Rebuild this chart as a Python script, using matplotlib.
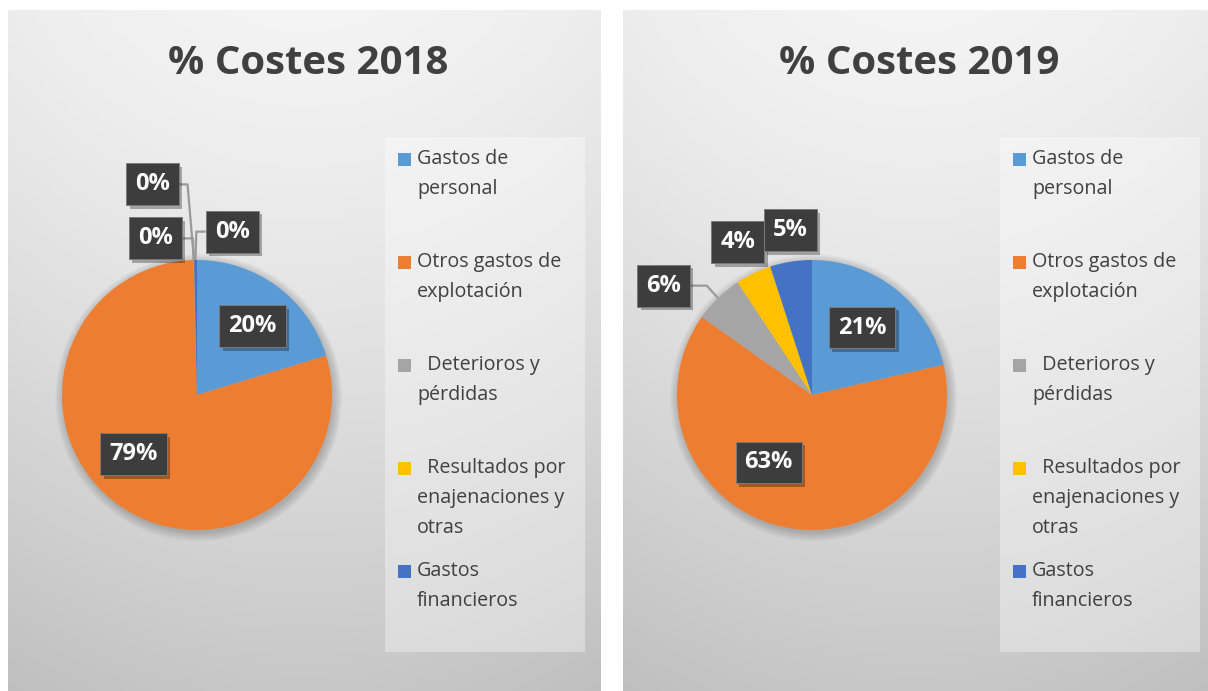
import numpy as np
import matplotlib
matplotlib.use("Agg")
import matplotlib.pyplot as plt
from matplotlib.patches import Rectangle, Circle
import matplotlib.patheffects as pe

# ---------------- data ----------------
categories = ["Gastos de\npersonal", "Otros gastos de\nexplotación",
              "  Deterioros y\npérdidas",
              "  Resultados por\nenajenaciones y\notras",
              "Gastos\nfinancieros"]
titles = ["% Costes 2018", "% Costes 2019"]
values_2018 = [20.3, 79.3, 0.03, 0.02, 0.35]
values_2019 = [21.4, 63.4, 5.9, 4.3, 5.0]
colors = ["#5B9BD5", "#ED7D31", "#A5A5A5", "#FFC000", "#4472C4"]

# ---------------- layout (style, in pie-radius units) ----------------
label_pos_2018 = [(0.41, 0.51), (-0.47, -0.44), (-0.31, 1.16), (-0.33, 1.56), (0.26, 1.21)]
leader_2018 = [None, None, ("right", -0.03), ("right", -0.07), ("left", -0.005)]
label_pos_2019 = [(0.37, 0.50), (-0.32, -0.50), (-1.10, 0.81), (-0.55, 1.13), (-0.16, 1.22)]
leader_2019 = [None, None, ("right", -0.78), None, None]

W, H = 1208, 691
FONT = "Open Sans"
TXT = "#404040"

fig = plt.figure(figsize=(W / 100, H / 100), dpi=100)
fig.patch.set_facecolor("white")


def px_axes(x0, y0, w, h):
    """axes positioned in pixel coords (y from top)"""
    return fig.add_axes([x0 / W, 1 - (y0 + h) / H, w / W, h / H])


panels = [
    dict(x0=8, w=593, values=values_2018, lpos=label_pos_2018, lead=leader_2018, title=titles[0]),
    dict(x0=623, w=W - 623, values=values_2019, lpos=label_pos_2019, lead=leader_2019, title=titles[1]),
]
PY0 = 10
R = 135
pies = []
for p in panels:
    x0, w = p["x0"], p["w"]
    ph = H - PY0
    bg = px_axes(x0, PY0, w, ph)
    bg.set_xlim(0, w)
    bg.set_ylim(ph, 0)
    bg.axis("off")
    # gradient background
    yy = np.linspace(0, 1, 200)[:, None]
    xx = np.linspace(-1, 1, 120)[None, :]
    grad = 0.955 - 0.175 * yy ** 1.3 - 0.03 * xx ** 2
    bg.imshow(np.dstack([grad] * 3), extent=(0, w, ph, 0), aspect="auto", zorder=0)
    # title
    bg.text(w / 2 + 4, 53, p["title"], ha="center", va="center", fontsize=29,
            fontweight="bold", color=TXT, family=FONT, zorder=3)
    # legend box
    lx, ly, lw, lh = 377, 127, 200, 515
    bg.add_patch(Rectangle((lx, ly), lw, lh, facecolor="white", alpha=0.35,
                           edgecolor="none", zorder=1))
    for i, (cat, col) in enumerate(zip(categories, colors)):
        y = 149 + 103 * i
        bg.add_patch(Rectangle((lx + 13, y - 6.5), 13, 13, facecolor=col,
                               edgecolor="none", zorder=2))
        for j, line in enumerate(cat.split("\n")):
            bg.text(lx + 32, y + 30 * j, line, ha="left", va="center",
                    fontsize=14.2, color=TXT, family=FONT, zorder=3)

    # pie axes
    cx, cy = x0 + 189, 395
    L = 1.6
    pax = px_axes(cx - L * R, cy - L * R, 2 * L * R, 2 * L * R)
    # soft shadow
    for k in range(10):
        pax.add_patch(Circle((0.012, -0.02), 1.0 + 0.007 * k, facecolor="black",
                             alpha=0.018, edgecolor="none", zorder=0))
    wedges, _ = pax.pie(p["values"], colors=colors, startangle=90, counterclock=False,
                        radius=1.0, wedgeprops=dict(linewidth=0))
    pax.set_xlim(-L, L)
    pax.set_ylim(-L, L)
    pax.axis("off")
    pax.set_aspect("equal")
    for wd in wedges:
        wd.set_zorder(1)
    total = sum(p["values"])
    texts = []
    for i, v in enumerate(p["values"]):
        lx_, ly_ = p["lpos"][i]
        t = pax.text(lx_, ly_, f"{round(v / total * 100):d}%", ha="center", va="center",
                     fontsize=17, fontweight="bold", color="white", family=FONT, zorder=5,
                     bbox=dict(boxstyle="square,pad=0.38", facecolor="#3d3d3d",
                               edgecolor="#7a7a7a", linewidth=0.7))
        t.get_bbox_patch().set_path_effects([
            pe.SimplePatchShadow(offset=(2.5, -2.5), shadow_rgbFace="black", alpha=0.3),
            pe.Normal()])
        texts.append(t)
    pies.append((pax, wedges, texts, p))

fig.canvas.draw()
for pax, wedges, texts, p in pies:
    inv = pax.transData.inverted()
    for i, wd in enumerate(wedges):
        lead = p["lead"][i]
        if lead is None:
            continue
        side, ex = lead
        bb = texts[i].get_bbox_patch().get_window_extent()
        (bx0, by0), (bx1, by1) = inv.transform([(bb.x0, bb.y0), (bb.x1, bb.y1)])
        ly_ = p["lpos"][i][1]
        sx = bx1 if side == "right" else bx0
        mid = np.deg2rad((wd.theta1 + wd.theta2) / 2)
        px_, py_ = np.cos(mid), np.sin(mid)
        pax.plot([sx, ex, px_], [ly_, ly_, py_], color="#9a9a9a", lw=1.6, zorder=4,
                 solid_capstyle="butt")

fig.savefig("out.png", dpi=100, facecolor="white")
